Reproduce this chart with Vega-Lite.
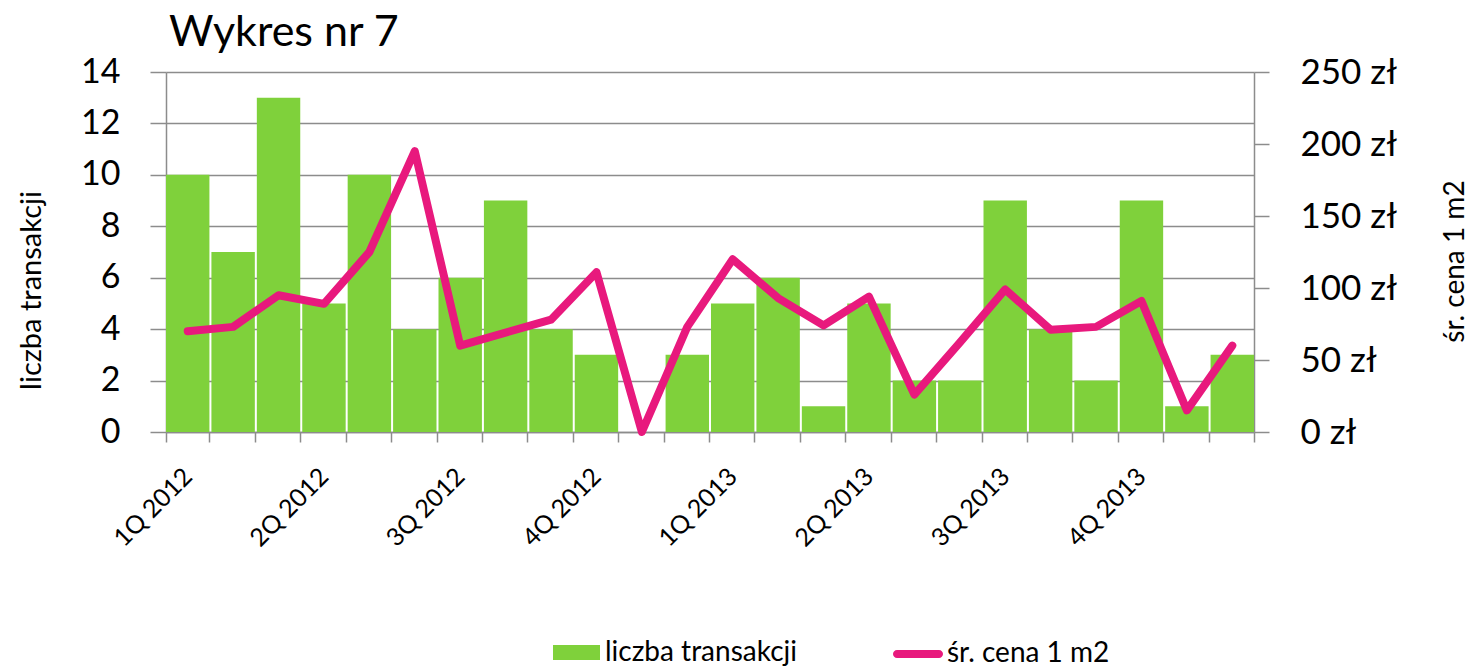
{
  "$schema": "https://vega.github.io/schema/vega-lite/v6.json",
  "width": 1088,
  "height": 360,
  "autosize": {"type": "none"},
  "padding": {"left": 166, "top": 72, "right": 218, "bottom": 239},
  "background": "white",
  "title": {"text": "Wykres nr 7", "anchor": "start", "frame": "group", "font": "Lato", "fontSize": 43, "fontWeight": "normal", "color": "#000000", "offset": 0, "dx": 3},
  "config": {"view": {"stroke": null}, "font": "Lato"},
  "data": {"values": [
    {"miesiac": "2012-01", "liczba": 10, "cena": 70},
    {"miesiac": "2012-02", "liczba": 7, "cena": 73},
    {"miesiac": "2012-03", "liczba": 13, "cena": 95},
    {"miesiac": "2012-04", "liczba": 5, "cena": 89},
    {"miesiac": "2012-05", "liczba": 10, "cena": 125},
    {"miesiac": "2012-06", "liczba": 4, "cena": 195},
    {"miesiac": "2012-07", "liczba": 6, "cena": 60},
    {"miesiac": "2012-08", "liczba": 9, "cena": 69},
    {"miesiac": "2012-09", "liczba": 4, "cena": 78},
    {"miesiac": "2012-10", "liczba": 3, "cena": 111},
    {"miesiac": "2012-11", "liczba": 0, "cena": 0},
    {"miesiac": "2012-12", "liczba": 3, "cena": 73},
    {"miesiac": "2013-01", "liczba": 5, "cena": 120},
    {"miesiac": "2013-02", "liczba": 6, "cena": 93},
    {"miesiac": "2013-03", "liczba": 1, "cena": 74},
    {"miesiac": "2013-04", "liczba": 5, "cena": 94},
    {"miesiac": "2013-05", "liczba": 2, "cena": 26},
    {"miesiac": "2013-06", "liczba": 2, "cena": 62},
    {"miesiac": "2013-07", "liczba": 9, "cena": 99},
    {"miesiac": "2013-08", "liczba": 4, "cena": 71},
    {"miesiac": "2013-09", "liczba": 2, "cena": 73},
    {"miesiac": "2013-10", "liczba": 9, "cena": 91},
    {"miesiac": "2013-11", "liczba": 1, "cena": 15},
    {"miesiac": "2013-12", "liczba": 3, "cena": 60}
  ]},
  "encoding": {
    "x": {
      "field": "miesiac", "type": "ordinal", "sort": null,
      "scale": {"paddingInner": 0.044, "paddingOuter": 0},
      "axis": {
        "orient": "bottom", "title": null, "tickBand": "extent",
        "tickSize": 10, "tickColor": "#8c8c8c", "tickWidth": 1.5,
        "domainColor": "#8c8c8c", "domainWidth": 1.5,
        "labelAngle": -45, "labelAlign": "right", "labelBaseline": "middle",
        "labelPadding": 30, "labelFontSize": 25, "labelColor": "#000000", "labelFont": "Lato",
        "labelExpr": "datum.value == '2012-01' ? '1Q 2012' : datum.value == '2012-04' ? '2Q 2012' : datum.value == '2012-07' ? '3Q 2012' : datum.value == '2012-10' ? '4Q 2012' : datum.value == '2013-01' ? '1Q 2013' : datum.value == '2013-04' ? '2Q 2013' : datum.value == '2013-07' ? '3Q 2013' : datum.value == '2013-10' ? '4Q 2013' : ''"
      }
    }
  },
  "layer": [
    {
      "mark": {"type": "bar"},
      "encoding": {
        "y": {
          "field": "liczba", "type": "quantitative",
          "scale": {"domain": [0, 14], "nice": false},
          "axis": {
            "orient": "left", "values": [0, 2, 4, 6, 8, 10, 12, 14],
            "grid": true, "gridColor": "#8c8c8c", "gridWidth": 1.5,
            "domainColor": "#8c8c8c", "domainWidth": 1.5,
            "tickColor": "#8c8c8c", "tickWidth": 1.5, "tickSize": 16,
            "labelFontSize": 34, "labelColor": "#000000", "labelPadding": 30, "labelFont": "Lato",
            "title": "liczba transakcji", "titleFontSize": 29, "titleFontWeight": "normal", "titleColor": "#000000", "titleFont": "Lato",
            "titleAngle": 270, "titleX": -135, "titleY": 218, "titleAlign": "center", "titleBaseline": "middle"
          }
        },
        "fill": {
          "datum": "liczba transakcji",
          "scale": {"range": ["#7fd13b"]},
          "legend": {
            "orient": "none", "legendX": 387, "legendY": 557, "title": null,
            "symbolType": "M-1,-0.32H1V0.32H-1Z", "symbolSize": 2209, "symbolStrokeWidth": 0,
            "labelFontSize": 28, "labelColor": "#000000", "labelFont": "Lato", "labelOffset": 5, "labelLimit": 500
          }
        }
      }
    },
    {
      "mark": {"type": "line", "strokeWidth": 8, "strokeCap": "round", "strokeJoin": "round"},
      "encoding": {
        "y": {
          "field": "cena", "type": "quantitative",
          "scale": {"domain": [0, 250], "nice": false},
          "axis": {
            "orient": "right", "values": [0, 50, 100, 150, 200, 250],
            "grid": false,
            "domainColor": "#8c8c8c", "domainWidth": 1.5,
            "tickColor": "#8c8c8c", "tickWidth": 1.5, "tickSize": 15,
            "labelFontSize": 35, "labelColor": "#000000", "labelPadding": 31, "labelFont": "Lato",
            "labelExpr": "datum.value + ' zł'",
            "title": "śr. cena 1 m2", "titleFontSize": 28, "titleFontWeight": "normal", "titleColor": "#000000", "titleFont": "Lato",
            "titleAngle": 270, "titleX": 201, "titleY": 189, "titleAlign": "center", "titleBaseline": "middle"
          }
        },
        "stroke": {
          "datum": "śr. cena 1 m2",
          "scale": {"range": ["#e8197d"]},
          "legend": {
            "orient": "none", "legendX": 727, "legendY": 557, "title": null,
            "symbolType": "M-0.84,-0.16H0.84A0.16,0.16,0,0,1,0.84,0.16H-0.84A0.16,0.16,0,0,1,-0.84,-0.16Z",
            "symbolSize": 2500, "symbolStrokeWidth": 0, "symbolFillColor": "#e8197d",
            "labelFontSize": 28, "labelColor": "#000000", "labelFont": "Lato", "labelOffset": 4, "labelLimit": 500
          }
        }
      }
    }
  ],
  "resolve": {"scale": {"y": "independent"}}
}
